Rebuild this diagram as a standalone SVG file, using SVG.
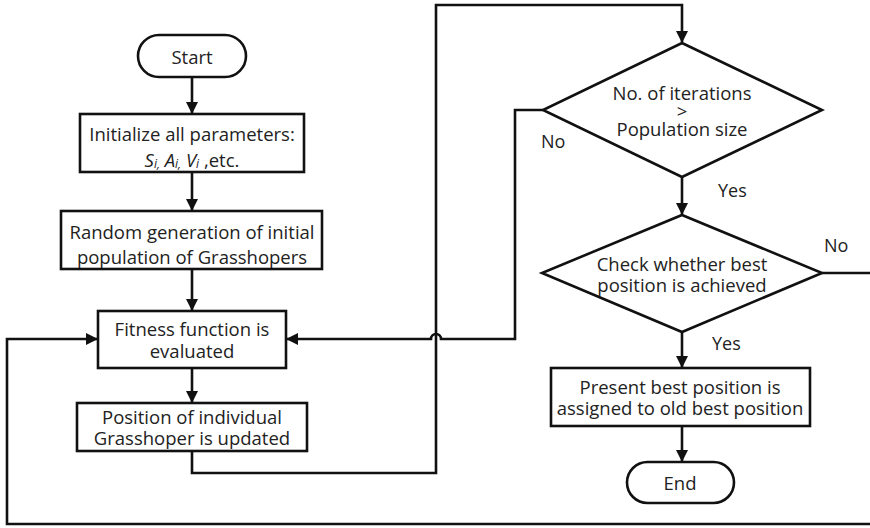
<svg xmlns="http://www.w3.org/2000/svg" width="870" height="528" viewBox="0 0 870 528">
<defs>
<marker id="arr" markerWidth="12" markerHeight="12" refX="11" refY="6" orient="auto" markerUnits="userSpaceOnUse">
<path d="M0,0 L12,6 L0,12 Z" fill="#111"/>
</marker>
<style>
.sh{fill:#fff;stroke:#111;stroke-width:2.6}
.t{font-family:"Open Sans","Liberation Sans",sans-serif;font-size:18.5px;fill:#222;text-anchor:middle;dominant-baseline:central}
.lb{font-family:"Open Sans","Liberation Sans",sans-serif;font-size:18px;fill:#222;dominant-baseline:central}
.c{fill:none;stroke:#111;stroke-width:2.6}
.i{font-style:italic}
.s{font-style:italic;font-size:12px}
</style>
</defs>
<rect width="870" height="528" fill="#fff"/>
<g id="connectors">
<path class="c" d="M192,77 V113" marker-end="url(#arr)"/>
<path class="c" d="M192,172 V210" marker-end="url(#arr)"/>
<path class="c" d="M192,269 V310" marker-end="url(#arr)"/>
<path class="c" d="M192,368 V402" marker-end="url(#arr)"/>
<path class="c" d="M192,451 V473 H436 V5 H682 V42" marker-end="url(#arr)"/>
<path class="c" d="M543,110 H515 V339 H441 A5,5 0 0 0 431,339 H287" marker-end="url(#arr)"/>
<path class="c" d="M682,177 V214" marker-end="url(#arr)"/>
<path class="c" d="M822,273 H873 V524 H7 V339 H97" marker-end="url(#arr)"/>
<path class="c" d="M682,332 V367" marker-end="url(#arr)"/>
<path class="c" d="M682,426 V461" marker-end="url(#arr)"/>
<text class="lb" x="541" y="141">No</text>
<text class="lb" x="718" y="190">Yes</text>
<text class="lb" x="824" y="245">No</text>
<text class="lb" x="712" y="343">Yes</text>
</g>
<g id="start">
<rect class="sh" x="138" y="35" width="108" height="42" rx="21"/>
<text class="t" x="192" y="56">Start</text>
</g>
<g id="init">
<rect class="sh" x="80" y="114" width="224" height="58"/>
<text class="t" x="192" y="133">Initialize all parameters:</text>
<text class="t" x="192" y="159"><tspan class="i">S</tspan><tspan class="s" dy="4">i,</tspan><tspan class="i" dy="-4"> A</tspan><tspan class="s" dy="4">i,</tspan><tspan class="i" dy="-4"> V</tspan><tspan class="s" dy="4">i</tspan><tspan dy="-4"> ,etc.</tspan></text>
</g>
<g id="random">
<rect class="sh" x="61" y="211" width="261" height="58"/>
<text class="t" x="192" y="231">Random generation of initial</text>
<text class="t" x="192" y="256">population of Grasshopers</text>
</g>
<g id="fitness">
<rect class="sh" x="98" y="311" width="188" height="57"/>
<text class="t" x="192" y="328">Fitness function is</text>
<text class="t" x="192" y="350">evaluated</text>
</g>
<g id="position">
<rect class="sh" x="77" y="403" width="230" height="48"/>
<text class="t" x="192" y="416">Position of individual</text>
<text class="t" x="192" y="437">Grasshoper is updated</text>
</g>
<g id="decision1">
<polygon class="sh" points="682,43 822,110 682,177 543,110"/>
<text class="t" x="682" y="92">No. of iterations</text>
<text class="t" x="682" y="110" font-size="15">&gt;</text>
<text class="t" x="682" y="128">Population size</text>
</g>
<g id="decision2">
<polygon class="sh" points="682,215 822,273 682,332 542,273"/>
<text class="t" x="682" y="263">Check whether best</text>
<text class="t" x="682" y="284">position is achieved</text>
</g>
<g id="present">
<rect class="sh" x="551" y="368" width="259" height="58"/>
<text class="t" x="680" y="386">Present best position is</text>
<text class="t" x="680" y="407">assigned to old best position</text>
</g>
<g id="end">
<rect class="sh" x="627" y="462" width="107" height="41" rx="20.5"/>
<text class="t" x="680" y="482">End</text>
</g>
</svg>
